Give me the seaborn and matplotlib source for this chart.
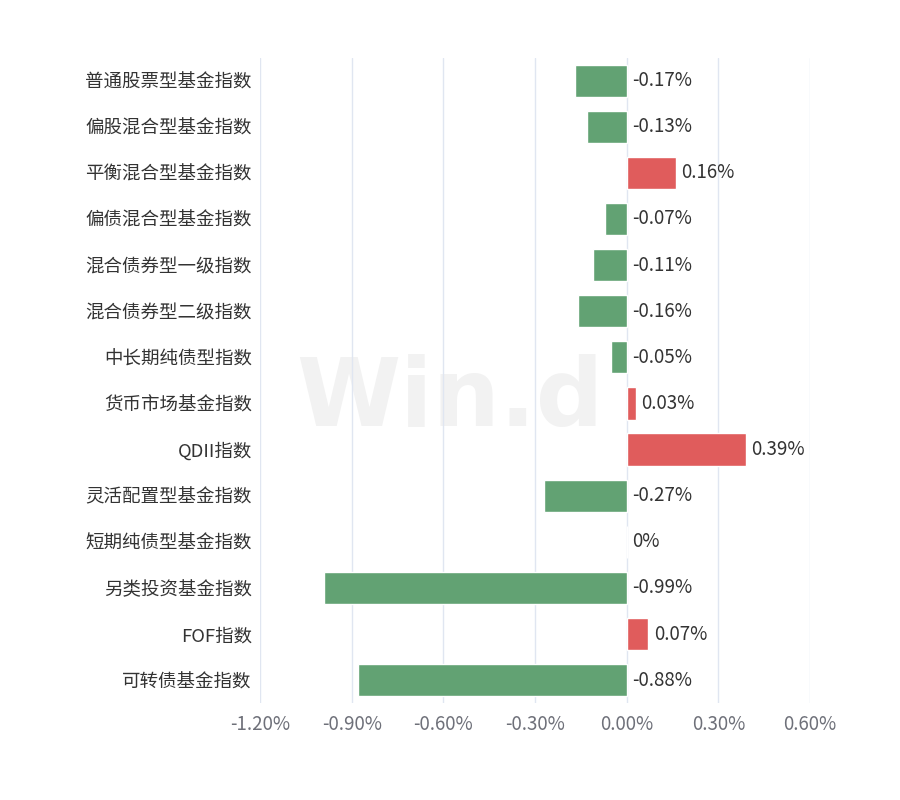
"""Fund index weekly change: horizontal bar chart (seaborn)."""

import matplotlib
matplotlib.use("Agg")
import matplotlib.pyplot as plt
import numpy as np
import pandas as pd
import seaborn as sns
from matplotlib.ticker import FuncFormatter

# ── data ──────────────────────────────────────────────────────────────────────
categories = [
    "普通股票型基金指数", "偏股混合型基金指数", "平衡混合型基金指数",
    "偏债混合型基金指数", "混合债券型一级指数", "混合债券型二级指数",
    "中长期纯债型指数", "货币市场基金指数", "QDII指数",
    "灵活配置型基金指数", "短期纯债型基金指数", "另类投资基金指数",
    "FOF指数", "可转债基金指数",
]
values = [-0.17, -0.13, 0.16, -0.07, -0.11, -0.16, -0.05,
          0.03, 0.39, -0.27, 0.0, -0.99, 0.07, -0.88]
x_ticks = [-1.2, -0.9, -0.6, -0.3, 0.0, 0.3, 0.6]

UP_COLOR = "#e05c5c"
DOWN_COLOR = "#62a273"
GRID_COLOR = "#e0e6f1"
LABEL_COLOR = "#333333"
TICK_COLOR = "#6e7079"

sns.set_theme(style="white")
plt.rcParams["font.family"] = ["Noto Sans CJK SC", "DejaVu Sans"]

df = pd.DataFrame({"name": categories, "value": values})
df["sign"] = np.where(df["value"] >= 0, "up", "down")

fig = plt.figure(figsize=(9, 8), dpi=100)
ax = fig.add_axes([0.289, 0.121, 0.611, 0.807])

# watermark, behind the grid
fig.text(0.50, 0.50, "Win.d", fontsize=68, fontweight="bold",
         color="#f2f2f2", ha="center", va="center", zorder=-1,
         family=["DejaVu Sans"])
ax.patch.set_alpha(0)

sns.barplot(data=df, x="value", y="name", hue="sign", orient="h",
            palette={"up": UP_COLOR, "down": DOWN_COLOR}, saturation=1,
            width=0.7, dodge=False, legend=False, ax=ax, zorder=3)

ax.set_xlim(x_ticks[0], x_ticks[-1])
ax.set_xticks(x_ticks)
ax.xaxis.set_major_formatter(FuncFormatter(lambda v, _: f"{v:.2f}%"))
ax.grid(axis="x", color=GRID_COLOR, linewidth=1, zorder=0)
ax.grid(axis="y", visible=False)
for sp in ax.spines.values():
    sp.set_visible(False)
ax.set_xlabel("")
ax.set_ylabel("")
ax.tick_params(axis="x", colors=TICK_COLOR, labelsize=13.5, length=0, pad=8)
ax.tick_params(axis="y", colors=LABEL_COLOR, labelsize=13.3, length=0, pad=6)
for t in ax.get_yticklabels():
    t.set_color(LABEL_COLOR)

# value labels
for i, v in enumerate(values):
    txt = "0%" if v == 0 else f"{v:.2f}%"
    x = max(v, 0)
    ax.annotate(txt, (x, i), xytext=(4, 0), textcoords="offset points",
                ha="left", va="center", fontsize=13.5, color=LABEL_COLOR,
                zorder=4)

fig.savefig("out.png", dpi=100)
